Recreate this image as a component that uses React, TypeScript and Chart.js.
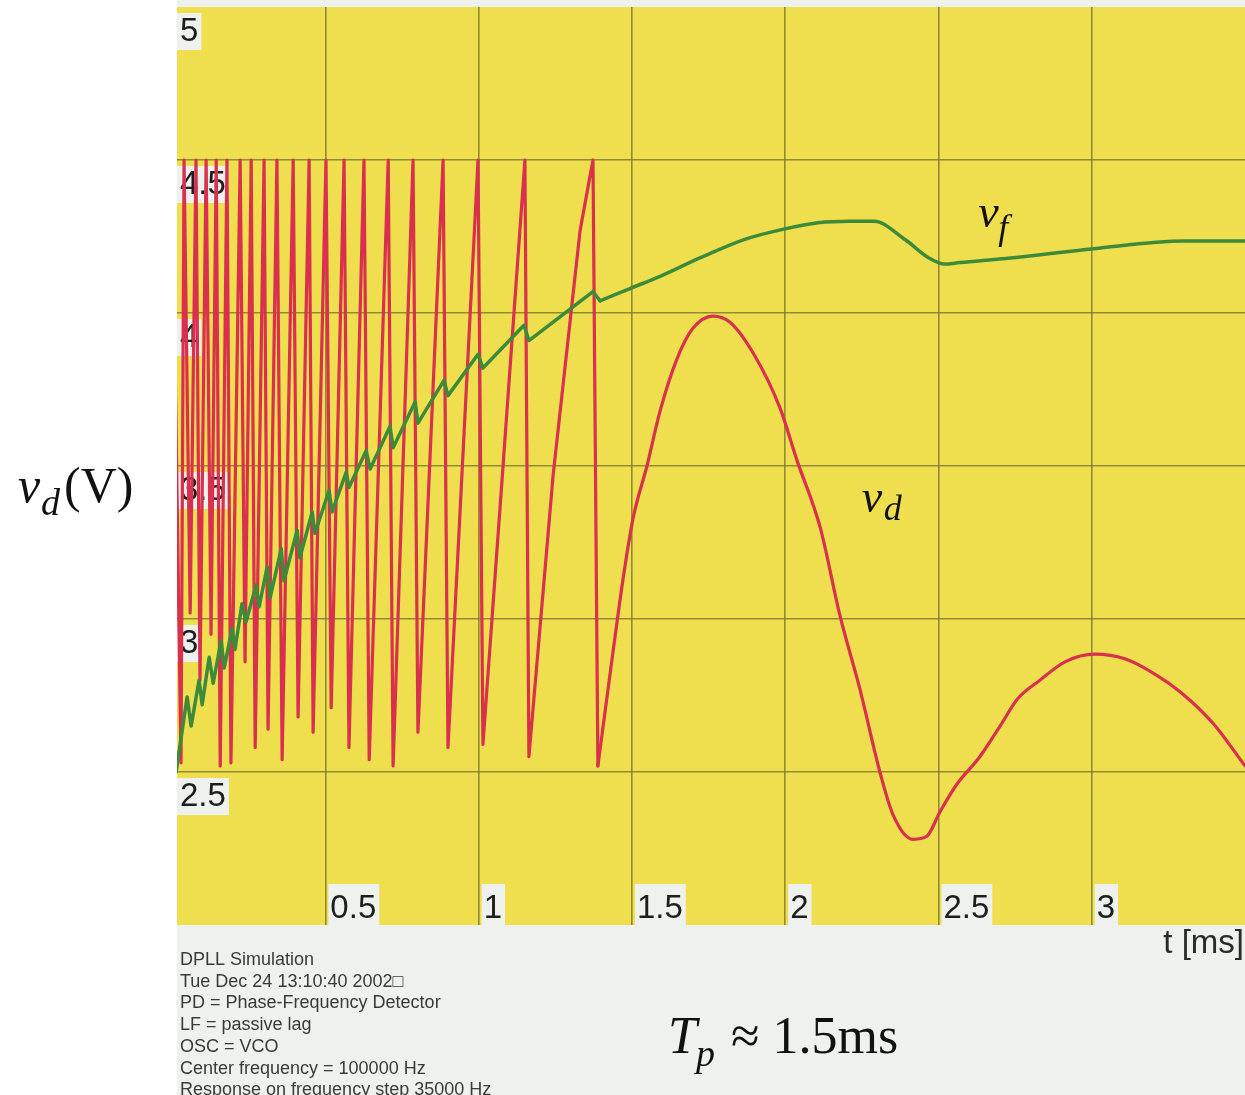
import React, { useEffect, useRef } from "react";
import { Chart, registerables } from "chart.js";

Chart.register(...registerables);

// v_d (phase detector output) while cycle-slipping: time in ms, voltage in V
const vdSlipTime = [
  0.0, 0.029, 0.039, 0.059, 0.078, 0.091, 0.111, 0.127, 0.144, 0.157,
  0.179, 0.192, 0.222, 0.238, 0.258, 0.271, 0.3, 0.313, 0.342, 0.359,
  0.395, 0.411, 0.447, 0.46, 0.502, 0.519, 0.561, 0.577, 0.626, 0.643,
  0.705, 0.721, 0.786, 0.802, 0.884, 0.9, 0.998, 1.014, 1.076, 1.151,
  1.164, 1.243, 1.331, 1.373, 1.389,
];
const vdSlipVolt = [
  4.5, 2.53, 4.5, 3.02, 4.5, 2.8, 4.5, 2.95, 4.5, 2.52,
  4.5, 2.53, 4.5, 2.86, 4.5, 2.58, 4.5, 2.64, 4.5, 2.54,
  4.5, 2.68, 4.5, 2.63, 4.5, 2.71, 4.5, 2.58, 4.5, 2.54,
  4.5, 2.52, 4.5, 2.63, 4.5, 2.58, 4.5, 2.59, 3.45, 4.5,
  2.55, 3.47, 4.27, 4.5, 2.52,
];
// v_d after lock-in (smooth damped response)
const vdLockTime = [
  1.389, 1.438, 1.471, 1.504, 1.549, 1.592, 1.647, 1.699, 1.765, 1.82,
  1.895, 1.983, 2.038, 2.114, 2.179, 2.244, 2.309, 2.352, 2.417, 2.462,
  2.505, 2.56, 2.635, 2.701, 2.759, 2.831, 2.913, 3.01, 3.108, 3.206,
  3.291, 3.395, 3.5,
];
const vdLockVolt = [
  2.52, 2.89, 3.13, 3.33, 3.5, 3.68, 3.85, 3.95, 3.99, 3.97,
  3.87, 3.69, 3.52, 3.3, 3.01, 2.77, 2.5, 2.36, 2.28, 2.29,
  2.37, 2.46, 2.55, 2.65, 2.74, 2.8, 2.86, 2.885, 2.87, 2.82,
  2.76, 2.66, 2.52,
];

// v_f (loop filter output) with ripple
const vfSlipTime = [
  0.013, 0.049, 0.062, 0.088, 0.098, 0.121, 0.134, 0.16, 0.17, 0.196,
  0.205, 0.228, 0.241, 0.274, 0.284, 0.31, 0.32, 0.356, 0.365, 0.408,
  0.417, 0.457, 0.466, 0.512, 0.522, 0.568, 0.577, 0.633, 0.646, 0.711,
  0.721, 0.793, 0.802, 0.887, 0.9, 0.998, 1.014, 1.148, 1.164, 1.373,
  1.396,
];
const vfSlipVolt = [
  2.5, 2.745, 2.65, 2.8, 2.72, 2.875, 2.79, 2.93, 2.84, 2.97,
  2.9, 3.05, 2.99, 3.11, 3.04, 3.17, 3.07, 3.23, 3.125, 3.29,
  3.2, 3.35, 3.28, 3.42, 3.35, 3.48, 3.43, 3.55, 3.49, 3.63,
  3.56, 3.71, 3.64, 3.78, 3.73, 3.865, 3.82, 3.96, 3.91, 4.07,
  4.04,
];
const vfLockTime = [
  1.396, 1.494, 1.592, 1.722, 1.866, 1.999, 2.107, 2.211, 2.29, 2.391,
  2.469, 2.521, 2.57, 2.736, 3.007, 3.301, 3.5,
];
const vfLockVolt = [
  4.04, 4.08, 4.12, 4.18, 4.24, 4.275, 4.295, 4.3, 4.3, 4.24,
  4.18, 4.16, 4.165, 4.18, 4.21, 4.235, 4.235,
];

const xTickLabels = [0.5, 1, 1.5, 2, 2.5, 3];
const yTickLabels = [2.5, 3, 3.5, 4, 4.5, 5];

const infoLines = [
  "DPLL Simulation",
  "Tue Dec 24 13:10:40 2002\u25A1",
  "PD = Phase-Frequency Detector",
  "LF = passive lag",
  "OSC = VCO",
  "Center frequency = 100000 Hz",
  "Response on frequency step 35000 Hz",
];

const YELLOW = "rgb(239, 223, 78)";
const GRID = "rgba(120, 118, 48, 0.8)";
const PANEL = "#eef1ee";
const RED = "#d9304e";
const GREEN = "#3d8b3a";
const SANS = '"Liberation Sans", Arial, sans-serif';
const SERIF = '"Liberation Serif", "Times New Roman", serif';

const toPts = (ts: number[], vs: number[]) => ts.map((t, i) => ({ x: t, y: vs[i] }));

export default function App() {
  const ref = useRef<HTMLCanvasElement>(null);

  useEffect(() => {
    const canvas = ref.current;
    if (!canvas) return;

    const decor = {
      id: "decor",
      beforeDraw(chart: any) {
        const { ctx, chartArea } = chart;
        ctx.save();
        ctx.fillStyle = "#ffffff";
        ctx.fillRect(0, 0, chart.width, chart.height);
        ctx.fillStyle = PANEL;
        ctx.fillRect(chartArea.left, 0, chart.width - chartArea.left, chartArea.top);
        ctx.fillRect(chartArea.left, chartArea.bottom, chart.width - chartArea.left, chart.height - chartArea.bottom);
        ctx.fillStyle = YELLOW;
        ctx.fillRect(chartArea.left, chartArea.top, chartArea.right - chartArea.left, chartArea.bottom - chartArea.top);
        ctx.restore();
      },
      beforeDatasetsDraw(chart: any) {
        const { ctx, chartArea } = chart;
        const xs = chart.scales.x;
        const ys = chart.scales.y;
        ctx.save();
        ctx.font = `33px ${SANS}`;
        ctx.textBaseline = "alphabetic";
        ctx.textAlign = "left";
        for (const v of yTickLabels) {
          const py = ys.getPixelForValue(v);
          const s = String(v);
          const w = ctx.measureText(s).width;
          ctx.fillStyle = PANEL;
          ctx.fillRect(chartArea.left, py + 6, w + 6, 37);
          ctx.fillStyle = "#1e1e1e";
          ctx.fillText(s, chartArea.left + 3, py + 34);
        }
        for (const v of xTickLabels) {
          const px = xs.getPixelForValue(v);
          const s = String(v);
          const w = ctx.measureText(s).width;
          ctx.fillStyle = PANEL;
          ctx.fillRect(px + 3, chartArea.bottom - 41, w + 5, 41);
          ctx.fillStyle = "#1e1e1e";
          ctx.fillText(s, px + 5, chartArea.bottom - 7);
        }
        ctx.restore();
      },
      afterDraw(chart: any) {
        const { ctx, chartArea } = chart;
        const xs = chart.scales.x;
        const ys = chart.scales.y;
        ctx.save();
        ctx.fillStyle = "#111";
        ctx.textAlign = "left";
        ctx.textBaseline = "alphabetic";

        // curve labels
        const vfX = xs.getPixelForValue(2.63);
        const vfY = ys.getPixelForValue(4.28);
        ctx.font = `italic 46px ${SERIF}`;
        ctx.fillText("v", vfX, vfY);
        ctx.font = `italic 36px ${SERIF}`;
        ctx.fillText("f", vfX + 20, vfY + 12);

        const vdX = xs.getPixelForValue(2.25);
        const vdY = ys.getPixelForValue(3.35);
        ctx.font = `italic 46px ${SERIF}`;
        ctx.fillText("v", vdX, vdY);
        ctx.font = `italic 36px ${SERIF}`;
        ctx.fillText("d", vdX + 22, vdY + 8);

        // y axis title
        ctx.font = `italic 50px ${SERIF}`;
        ctx.fillText("v", 18, 502);
        ctx.font = `italic 38px ${SERIF}`;
        ctx.fillText("d", 41, 515);
        ctx.font = `50px ${SERIF}`;
        ctx.fillText("(V)", 64, 502);

        // x axis title
        ctx.font = `33px ${SANS}`;
        ctx.fillStyle = "#2a2a2a";
        ctx.textAlign = "right";
        ctx.fillText("t [ms]", chartArea.right - 1, chartArea.bottom + 28);

        // info block
        ctx.textAlign = "left";
        ctx.font = `18px ${SANS}`;
        ctx.fillStyle = "#3a3a3a";
        infoLines.forEach((line, i) => {
          ctx.fillText(line, 180, 965 + i * 21.7);
        });

        // T_p annotation
        ctx.fillStyle = "#111";
        ctx.font = `italic 52px ${SERIF}`;
        ctx.fillText("T", 668, 1053);
        ctx.font = `italic 38px ${SERIF}`;
        ctx.fillText("p", 696, 1066);
        ctx.font = `52px ${SERIF}`;
        ctx.fillText("\u2248 1.5ms", 731, 1053);
        ctx.restore();
      },
    };

    const gridColorX = (c: any) =>
      c.tick && c.tick.value > 0.1 && c.tick.value < 3.49 ? GRID : "rgba(0,0,0,0)";
    const gridColorY = (c: any) =>
      c.tick && c.tick.value > 2.01 && c.tick.value < 4.99 ? GRID : "rgba(0,0,0,0)";

    const common = {
      showLine: true,
      pointRadius: 0,
      borderJoinStyle: "round",
      borderCapStyle: "round",
    };

    const chart = new Chart(canvas, {
      type: "scatter",
      data: {
        datasets: [
          {
            ...common,
            label: "v_f",
            data: toPts(vfSlipTime, vfSlipVolt),
            borderColor: GREEN,
            borderWidth: 3.5,
            tension: 0,
            order: 0,
          },
          {
            ...common,
            label: "v_f (locked)",
            data: toPts(vfLockTime, vfLockVolt),
            borderColor: GREEN,
            borderWidth: 3.5,
            cubicInterpolationMode: "monotone",
            order: 1,
          },
          {
            ...common,
            label: "v_d",
            data: toPts(vdSlipTime, vdSlipVolt),
            borderColor: RED,
            borderWidth: 3.2,
            tension: 0,
            order: 2,
          },
          {
            ...common,
            label: "v_d (locked)",
            data: toPts(vdLockTime, vdLockVolt),
            borderColor: RED,
            borderWidth: 3.2,
            cubicInterpolationMode: "monotone",
            order: 3,
          },
        ],
      },
      options: {
        responsive: false,
        maintainAspectRatio: false,
        animation: false,
        layout: { padding: { left: 177, top: 7, right: 0, bottom: 170 } },
        plugins: {
          legend: { display: false },
          tooltip: { enabled: false },
          title: { display: false },
        },
        scales: {
          x: {
            type: "linear",
            min: 0.016,
            max: 3.5,
            ticks: { display: false, stepSize: 0.5 },
            grid: { color: gridColorX, lineWidth: 1.6, drawTicks: false },
            border: { display: false },
          },
          y: {
            type: "linear",
            min: 2,
            max: 5,
            ticks: { display: false, stepSize: 0.5 },
            grid: { color: gridColorY, lineWidth: 1.6, drawTicks: false },
            border: { display: false },
          },
        },
      },
      plugins: [decor],
    } as any);

    return () => chart.destroy();
  }, []);

  return (
    <div
      style={{
        position: "fixed",
        left: 0,
        top: 0,
        width: 1245,
        height: 1095,
        background: "#fff",
      }}
    >
      <canvas ref={ref} width={1245} height={1095} style={{ display: "block" }} />
    </div>
  );
}
